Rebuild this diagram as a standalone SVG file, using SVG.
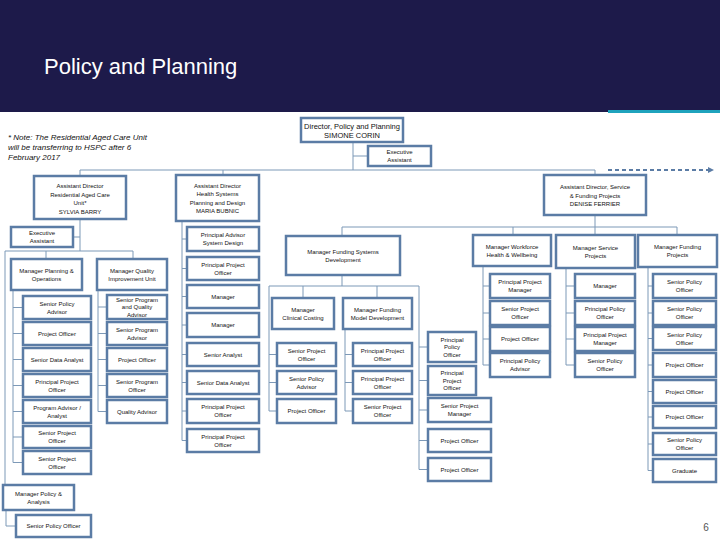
<svg xmlns="http://www.w3.org/2000/svg" width="720" height="540" viewBox="0 0 720 540">
<style>
.b{fill:#fff;stroke:#5b7ca5;stroke-width:2.5}
.c{fill:none;stroke:#7d99b7;stroke-width:1}
.t{font-family:"Liberation Sans",Arial,sans-serif;font-size:6px;fill:#111;text-anchor:middle}
.d{font-family:"Liberation Sans",Arial,sans-serif;font-size:7.5px;fill:#111;text-anchor:middle}
</style>
<defs>
<marker id="ah" markerWidth="6" markerHeight="6" refX="5" refY="3" orient="auto" markerUnits="userSpaceOnUse"><path d="M0,0 L6,3 L0,6 Z" fill="#5b7ca5"/></marker>
</defs>
<rect x="0" y="0" width="720" height="112" fill="#1d1a4a"/>
<rect x="608" y="110" width="112" height="3" fill="#1fa3bd"/>
<text x="44" y="74" font-family="Liberation Sans,Arial,sans-serif" font-size="22" fill="#fff">Policy and Planning</text>
<text x="8" y="140" font-family="Liberation Sans,Arial,sans-serif" font-size="8" font-style="italic" fill="#111"><tspan x="8" y="140">* Note: The Residential Aged Care Unit</tspan><tspan x="8" y="150">will be transferring to HSPC after 6</tspan><tspan x="8" y="160">February 2017</tspan></text>
<text x="706" y="531" font-family="Liberation Sans,Arial,sans-serif" font-size="10" fill="#555" text-anchor="middle">6</text>

<g id="connectors">
<path class="c" d="M353 142V170M353 156H368M80 170H595M80 170V176M223 170V175M595 170V175"/>
<path d="M608 170H713" stroke="#5b7ca5" stroke-width="2" stroke-dasharray="4 3" fill="none" marker-end="url(#ah)"/>
<path class="c" d="M80 219V251M80 237H73M5 251H133M46 251V259M133 251V259M5 251V485M6 510V526H16"/>
<path class="c" d="M13 290V462.5M13 307.5H23M13 333.5H23M13 359.5H23M13 385.5H23M13 411.5H23M13 437H23M13 462.5H23"/>
<path class="c" d="M98 290V411.5M98 307H107M98 333.5H107M98 359.5H107M98 385.5H107M98 411.5H107"/>
<path class="c" d="M182 221V440.5M182 239H187M182 268.5H187M182 296.5H187M182 325H187M182 354.5H187M182 382.5H187M182 411H187M182 440.5H187"/>
<path class="c" d="M595 215V227M342 227H677M342 227V236M513 227V235M595 227V235M677 227V235"/>
<path class="c" d="M342 275V286M269 286H419M303 286V298M377 286V298"/>
<path class="c" d="M269 286V411M269 354.5H277M269 382.5H277M269 411H277"/>
<path class="c" d="M345 329V411M345 354.5H353M345 382.5H353M345 411H353"/>
<path class="c" d="M419 286V469.5M419 347H428M419 380.5H428M419 410H428M419 440.5H428M419 469.5H428"/>
<path class="c" d="M483 266V365M483 286H490M483 313H490M483 339H490M483 365H490"/>
<path class="c" d="M566 268V365M566 286H575M566 313H575M566 339H575M566 365H575"/>
<path class="c" d="M648 267V470.5M648 286H653M648 313H653M648 338.5H653M648 365H653M648 391.5H653M648 417H653M648 444H653M648 470.5H653"/>
</g>

<g id="director"><rect class="b" x="301" y="118" width="102" height="24"/><text class="d" x="352" y="128.5">Director, Policy and Planning</text><text class="d" x="352" y="137.5">SIMONE CORIN</text></g>
<g id="exec-assistant"><rect class="b" x="368" y="146" width="63" height="20"/><text class="t"><tspan x="399.5" y="154.2">Executive</tspan><tspan x="399.5" y="162.2">Assistant</tspan></text></g>
<g id="ad-racu"><rect class="b" x="34" y="176" width="92" height="43"/><text class="t"><tspan x="80" y="188">Assistant Director</tspan><tspan x="80" y="196.5">Residential Aged Care</tspan><tspan x="80" y="205">Unit*</tspan><tspan x="80" y="213.5">SYLVIA BARRY</tspan></text></g>
<g id="ad-hspd"><rect class="b" x="176" y="175" width="83" height="46"/><text class="t"><tspan x="217.5" y="187.5">Assistant Director</tspan><tspan x="217.5" y="196">Health Systems</tspan><tspan x="217.5" y="204.5">Planning and Design</tspan><tspan x="217.5" y="213">MARIA BUBNIC</tspan></text></g>
<g id="ad-service"><rect class="b" x="544" y="175" width="102" height="40"/><text class="t"><tspan x="595" y="189">Assistant Director, Service</tspan><tspan x="595" y="197.5">&amp; Funding Projects</tspan><tspan x="595" y="206">DENISE FERRIER</tspan></text></g>

<g id="racu-ea"><rect class="b" x="11" y="227" width="62" height="20"/><text class="t"><tspan x="42" y="235.2">Executive</tspan><tspan x="42" y="243.2">Assistant</tspan></text></g>
<g id="mgr-po"><rect class="b" x="11" y="259" width="71" height="31"/><text class="t"><tspan x="46.5" y="272.7">Manager Planning &amp;</tspan><tspan x="46.5" y="280.7">Operations</tspan></text></g>
<g id="mgr-qi"><rect class="b" x="97" y="259" width="70" height="31"/><text class="t"><tspan x="132" y="272.7">Manager Quality</tspan><tspan x="132" y="280.7">Improvement Unit</tspan></text></g>

<g id="po-1"><rect class="b" x="23" y="296" width="68" height="23"/><text class="t"><tspan x="57" y="305.7">Senior Policy</tspan><tspan x="57" y="313.7">Advisor</tspan></text></g>
<g id="po-2"><rect class="b" x="23" y="322" width="68" height="23"/><text class="t" x="57" y="335.7">Project Officer</text></g>
<g id="po-3"><rect class="b" x="23" y="348" width="68" height="23"/><text class="t" x="57" y="361.7">Senior Data Analyst</text></g>
<g id="po-4"><rect class="b" x="23" y="374" width="68" height="23"/><text class="t"><tspan x="57" y="383.7">Principal Project</tspan><tspan x="57" y="391.7">Officer</tspan></text></g>
<g id="po-5"><rect class="b" x="23" y="400" width="68" height="23"/><text class="t"><tspan x="57" y="409.7">Program Advisor /</tspan><tspan x="57" y="417.7">Analyst</tspan></text></g>
<g id="po-6"><rect class="b" x="23" y="426" width="68" height="22"/><text class="t"><tspan x="57" y="435.2">Senior Project</tspan><tspan x="57" y="443.2">Officer</tspan></text></g>
<g id="po-7"><rect class="b" x="23" y="451" width="68" height="23"/><text class="t"><tspan x="57" y="460.7">Senior Project</tspan><tspan x="57" y="468.7">Officer</tspan></text></g>

<g id="qi-1"><rect class="b" x="107" y="295" width="60" height="24"/><text class="t"><tspan x="137" y="301.7">Senior Program</tspan><tspan x="137" y="309.2">and Quality</tspan><tspan x="137" y="316.7">Advisor</tspan></text></g>
<g id="qi-2"><rect class="b" x="107" y="322" width="60" height="23"/><text class="t"><tspan x="137" y="331.7">Senior Program</tspan><tspan x="137" y="339.7">Advisor</tspan></text></g>
<g id="qi-3"><rect class="b" x="107" y="348" width="60" height="23"/><text class="t" x="137" y="361.7">Project Officer</text></g>
<g id="qi-4"><rect class="b" x="107" y="374" width="60" height="23"/><text class="t"><tspan x="137" y="383.7">Senior Program</tspan><tspan x="137" y="391.7">Officer</tspan></text></g>
<g id="qi-5"><rect class="b" x="107" y="400" width="60" height="23"/><text class="t" x="137" y="413.7">Quality Advisor</text></g>

<g id="mgr-pa"><rect class="b" x="3" y="485" width="71" height="25"/><text class="t"><tspan x="38.5" y="495.7">Manager Policy &amp;</tspan><tspan x="38.5" y="503.7">Analysis</tspan></text></g>
<g id="pa-1"><rect class="b" x="16" y="515" width="75" height="22"/><text class="t" x="53.5" y="528.2">Senior Policy Officer</text></g>

<g id="hs-1"><rect class="b" x="187" y="227" width="72" height="24"/><text class="t"><tspan x="223" y="237.2">Principal Advisor</tspan><tspan x="223" y="245.2">System Design</tspan></text></g>
<g id="hs-2"><rect class="b" x="187" y="257" width="72" height="23"/><text class="t"><tspan x="223" y="266.7">Principal Project</tspan><tspan x="223" y="274.7">Officer</tspan></text></g>
<g id="hs-3"><rect class="b" x="187" y="285" width="72" height="23"/><text class="t" x="223" y="298.7">Manager</text></g>
<g id="hs-4"><rect class="b" x="187" y="313" width="72" height="24"/><text class="t" x="223" y="327.2">Manager</text></g>
<g id="hs-5"><rect class="b" x="187" y="343" width="72" height="23"/><text class="t" x="223" y="356.7">Senior Analyst</text></g>
<g id="hs-6"><rect class="b" x="187" y="371" width="72" height="23"/><text class="t" x="223" y="384.7">Senior Data Analyst</text></g>
<g id="hs-7"><rect class="b" x="187" y="399" width="72" height="24"/><text class="t"><tspan x="223" y="409.2">Principal Project</tspan><tspan x="223" y="417.2">Officer</tspan></text></g>
<g id="hs-8"><rect class="b" x="187" y="429" width="72" height="23"/><text class="t"><tspan x="223" y="438.7">Principal Project</tspan><tspan x="223" y="446.7">Officer</tspan></text></g>

<g id="mgr-fsd"><rect class="b" x="286" y="236" width="114" height="39"/><text class="t"><tspan x="343" y="253.7">Manager Funding Systems</tspan><tspan x="343" y="261.7">Development</tspan></text></g>
<g id="mgr-cc"><rect class="b" x="272" y="298" width="62" height="31"/><text class="t"><tspan x="303" y="311.7">Manager</tspan><tspan x="303" y="319.7">Clinical Costing</tspan></text></g>
<g id="mgr-fmd"><rect class="b" x="343" y="298" width="69" height="31"/><text class="t"><tspan x="377.5" y="311.7">Manager Funding</tspan><tspan x="377.5" y="319.7">Model Development</tspan></text></g>

<g id="cc-1"><rect class="b" x="277" y="343" width="59" height="23"/><text class="t"><tspan x="306.5" y="352.7">Senior Project</tspan><tspan x="306.5" y="360.7">Officer</tspan></text></g>
<g id="cc-2"><rect class="b" x="277" y="371" width="59" height="23"/><text class="t"><tspan x="306.5" y="380.7">Senior Policy</tspan><tspan x="306.5" y="388.7">Advisor</tspan></text></g>
<g id="cc-3"><rect class="b" x="277" y="399" width="59" height="24"/><text class="t" x="306.5" y="413.2">Project Officer</text></g>
<g id="fm-1"><rect class="b" x="353" y="343" width="59" height="23"/><text class="t"><tspan x="382.5" y="352.7">Principal Project</tspan><tspan x="382.5" y="360.7">Officer</tspan></text></g>
<g id="fm-2"><rect class="b" x="353" y="371" width="59" height="23"/><text class="t"><tspan x="382.5" y="380.7">Principal Project</tspan><tspan x="382.5" y="388.7">Officer</tspan></text></g>
<g id="fm-3"><rect class="b" x="353" y="399" width="59" height="24"/><text class="t"><tspan x="382.5" y="409.2">Senior Project</tspan><tspan x="382.5" y="417.2">Officer</tspan></text></g>

<g id="fs-1"><rect class="b" x="428" y="332" width="48" height="30"/><text class="t"><tspan x="452" y="341.7">Principal</tspan><tspan x="452" y="349.2">Policy</tspan><tspan x="452" y="356.7">Officer</tspan></text></g>
<g id="fs-2"><rect class="b" x="428" y="366" width="48" height="29"/><text class="t"><tspan x="452" y="375.2">Principal</tspan><tspan x="452" y="382.7">Project</tspan><tspan x="452" y="390.2">Officer</tspan></text></g>
<g id="fs-3"><rect class="b" x="428" y="398" width="63" height="24"/><text class="t"><tspan x="459.5" y="408.2">Senior Project</tspan><tspan x="459.5" y="416.2">Manager</tspan></text></g>
<g id="fs-4"><rect class="b" x="428" y="429" width="63" height="23"/><text class="t" x="459.5" y="442.7">Project Officer</text></g>
<g id="fs-5"><rect class="b" x="428" y="458" width="63" height="23"/><text class="t" x="459.5" y="471.7">Project Officer</text></g>

<g id="mgr-wf"><rect class="b" x="473" y="235" width="78" height="31"/><text class="t"><tspan x="512" y="248.7">Manager Workforce</tspan><tspan x="512" y="256.7">Health &amp; Wellbeing</tspan></text></g>
<g id="mgr-sp"><rect class="b" x="556" y="235" width="79" height="33"/><text class="t"><tspan x="595.5" y="249.7">Manager Service</tspan><tspan x="595.5" y="257.7">Projects</tspan></text></g>
<g id="mgr-fp"><rect class="b" x="638" y="235" width="79" height="32"/><text class="t"><tspan x="677.5" y="249.2">Manager Funding</tspan><tspan x="677.5" y="257.2">Projects</tspan></text></g>

<g id="wf-1"><rect class="b" x="490" y="274" width="60" height="24"/><text class="t"><tspan x="520" y="284.2">Principal Project</tspan><tspan x="520" y="292.2">Manager</tspan></text></g>
<g id="wf-2"><rect class="b" x="490" y="301" width="60" height="24"/><text class="t"><tspan x="520" y="311.2">Senior Project</tspan><tspan x="520" y="319.2">Officer</tspan></text></g>
<g id="wf-3"><rect class="b" x="490" y="327" width="60" height="24"/><text class="t" x="520" y="341.2">Project Officer</text></g>
<g id="wf-4"><rect class="b" x="490" y="353" width="60" height="24"/><text class="t"><tspan x="520" y="363.2">Principal Policy</tspan><tspan x="520" y="371.2">Advisor</tspan></text></g>

<g id="sp-1"><rect class="b" x="575" y="274" width="60" height="24"/><text class="t" x="605" y="288.2">Manager</text></g>
<g id="sp-2"><rect class="b" x="575" y="301" width="60" height="24"/><text class="t"><tspan x="605" y="311.2">Principal Policy</tspan><tspan x="605" y="319.2">Officer</tspan></text></g>
<g id="sp-3"><rect class="b" x="575" y="327" width="60" height="24"/><text class="t"><tspan x="605" y="337.2">Principal Project</tspan><tspan x="605" y="345.2">Manager</tspan></text></g>
<g id="sp-4"><rect class="b" x="575" y="353" width="60" height="24"/><text class="t"><tspan x="605" y="363.2">Senior Policy</tspan><tspan x="605" y="371.2">Officer</tspan></text></g>

<g id="fp-1"><rect class="b" x="653" y="274" width="63" height="24"/><text class="t"><tspan x="684.5" y="284.2">Senior Policy</tspan><tspan x="684.5" y="292.2">Officer</tspan></text></g>
<g id="fp-2"><rect class="b" x="653" y="301" width="63" height="24"/><text class="t"><tspan x="684.5" y="311.2">Senior Policy</tspan><tspan x="684.5" y="319.2">Officer</tspan></text></g>
<g id="fp-3"><rect class="b" x="653" y="327" width="63" height="23"/><text class="t"><tspan x="684.5" y="336.7">Senior Policy</tspan><tspan x="684.5" y="344.7">Officer</tspan></text></g>
<g id="fp-4"><rect class="b" x="653" y="353" width="63" height="24"/><text class="t" x="684.5" y="367.2">Project Officer</text></g>
<g id="fp-5"><rect class="b" x="653" y="380" width="63" height="23"/><text class="t" x="684.5" y="393.7">Project Officer</text></g>
<g id="fp-6"><rect class="b" x="653" y="406" width="63" height="22"/><text class="t" x="684.5" y="419.2">Project Officer</text></g>
<g id="fp-7"><rect class="b" x="653" y="433" width="63" height="22"/><text class="t"><tspan x="684.5" y="442.2">Senior Policy</tspan><tspan x="684.5" y="450.2">Officer</tspan></text></g>
<g id="fp-8"><rect class="b" x="653" y="459" width="63" height="23"/><text class="t" x="684.5" y="472.7">Graduate</text></g>
</svg>
